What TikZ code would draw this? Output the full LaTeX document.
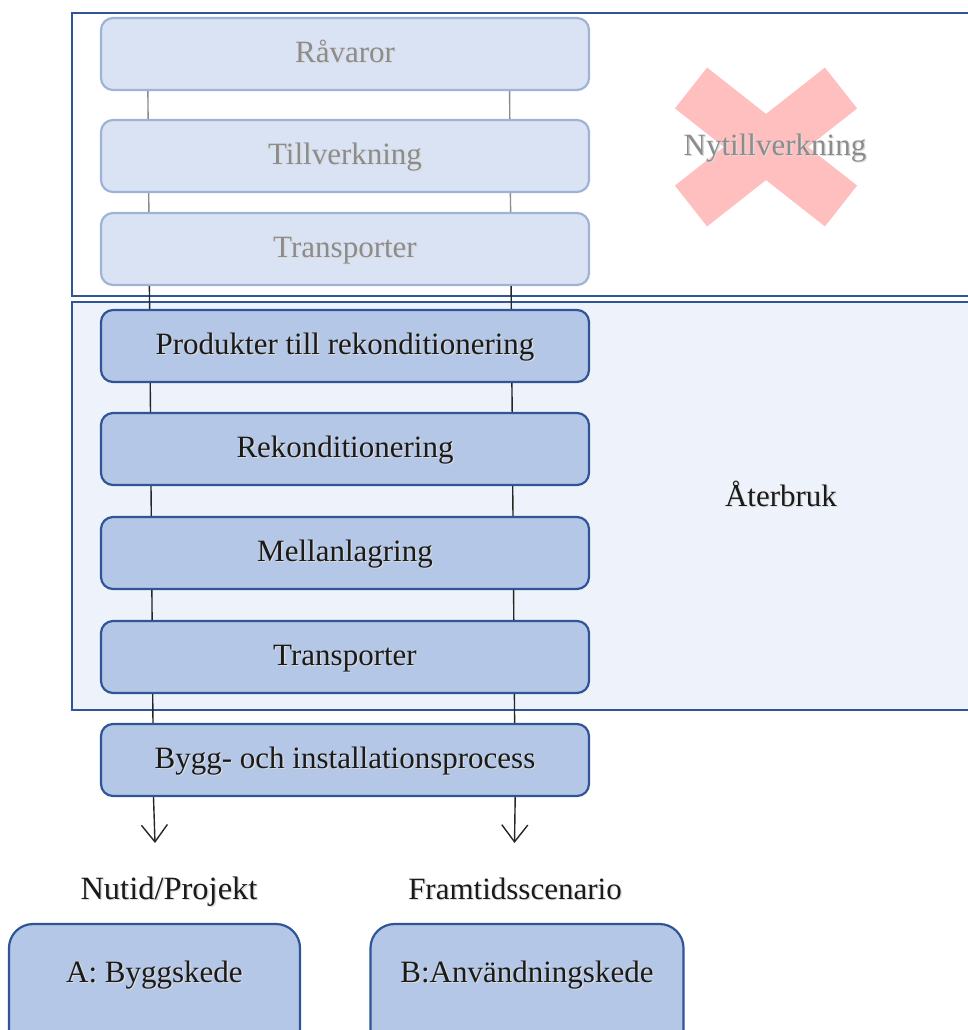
\documentclass[tikz,border=0pt]{standalone}
\usepackage{fontspec}
\setmainfont{Liberation Serif}
\usetikzlibrary{arrows.meta}

\definecolor{frameblue}{HTML}{2F5597}
\definecolor{darkfill}{HTML}{B4C7E7}
\definecolor{lightfill}{HTML}{DAE3F3}
\definecolor{lightedge}{HTML}{9FB3D8}
\definecolor{panelfill}{HTML}{EEF2FA}
\definecolor{crossred}{HTML}{FFBFBF}
\definecolor{greytext}{HTML}{8C8C8C}
\definecolor{inktext}{HTML}{1A1A1A}

% soft drop shadow behind a text
\newcommand\shd[1]{\makebox[0pt][l]{\kern1.3pt\raisebox{-1.3pt}{\textcolor{black!14}{#1}}}#1}

\begin{document}
\begin{tikzpicture}[x=1pt,y=-1pt,
  txt/.style={font=\fontsize{31}{36}\selectfont, inner sep=0pt},
  stepbox/.style={txt, rounded corners=12pt, minimum width=488pt, minimum height=72pt,
                  line width=2.2pt, text height=17pt, text depth=0pt},
  oldbox/.style={stepbox, fill=lightfill, draw=lightedge, text=greytext},
  newbox/.style={stepbox, fill=darkfill, draw=frameblue, text=inktext},
  endbox/.style={txt, rounded corners=24pt, minimum height=136pt, line width=2.2pt,
                 fill=darkfill, draw=frameblue, text=inktext, text height=17pt, text depth=37pt},
  panel/.style={draw=frameblue, line width=2.8pt, minimum width=908pt, inner sep=0pt},
  link/.style={line width=1.4pt, draw=black!85},
  oldlink/.style={line width=1.4pt, draw=black!45},
  arr/.style={link, -{Straight Barb[length=17pt,width=26pt,line width=1.4pt]}}
]
\useasboundingbox (0,0) rectangle (968,1030);
\clip (0,0) rectangle (968,1030);

% outer panels
\node[panel, fill=white, minimum height=283pt] (nypanel) at (526,154.5) {};
\node[panel, fill=panelfill, minimum height=408pt] (atpanel) at (526,506) {};

% crossed-out mark
\draw[crossred, line width=52pt] (691,88) -- (841,206) (841,88) -- (691,206);

% process steps
\node[oldbox] (rav)  at (345,54)  {\shd{Råvaror}};
\node[oldbox] (till) at (345,156) {\shd{Tillverkning}};
\node[oldbox] (tr1)  at (345,249) {\shd{Transporter}};
\node[newbox] (prod) at (345,346) {\shd{Produkter till rekonditionering}};
\node[newbox] (rek)  at (345,449) {\shd{Rekonditionering}};
\node[newbox] (mel)  at (345,553) {\shd{Mellanlagring}};
\node[newbox] (tr2)  at (345,657) {\shd{Transporter}};
\node[newbox] (bygg) at (345,760) {\shd{Bygg- och installationsprocess}};

% side rails between the steps
\draw[oldlink] ([xshift=48.0pt]rav.south west)  -- ([xshift=48.2pt]till.north west);
\draw[oldlink] ([xshift=-80.5pt]rav.south east) -- ([xshift=-80.3pt]till.north east);
\draw[oldlink] ([xshift=48.8pt]till.south west) -- ([xshift=49.0pt]tr1.north west);
\draw[oldlink] ([xshift=-79.7pt]till.south east) -- ([xshift=-79.5pt]tr1.north east);
\draw[link] ([xshift=49.5pt]tr1.south west)  -- ([xshift=49.7pt]prod.north west);
\draw[link] ([xshift=-79.0pt]tr1.south east) -- ([xshift=-78.8pt]prod.north east);
\draw[link] ([xshift=50.3pt]prod.south west) -- ([xshift=50.6pt]rek.north west);
\draw[link] ([xshift=-78.2pt]prod.south east) -- ([xshift=-77.9pt]rek.north east);
\draw[link] ([xshift=51.1pt]rek.south west)  -- ([xshift=51.4pt]mel.north west);
\draw[link] ([xshift=-77.4pt]rek.south east) -- ([xshift=-77.1pt]mel.north east);
\draw[link] ([xshift=52.0pt]mel.south west)  -- ([xshift=52.2pt]tr2.north west);
\draw[link] ([xshift=-76.5pt]mel.south east) -- ([xshift=-76.3pt]tr2.north east);
\draw[link] ([xshift=52.8pt]tr2.south west)  -- ([xshift=53.1pt]bygg.north west);
\draw[link] ([xshift=-75.7pt]tr2.south east) -- ([xshift=-75.5pt]bygg.north east);

% outcome arrows
\coordinate (endL) at (155,843);
\coordinate (endR) at (514.5,843);
\draw[arr] ([xshift=53.6pt]bygg.south west) -- (endL);
\draw[arr] ([xshift=-74.9pt]bygg.south east) -- (endR);

% panel labels
\node[txt, text=greytext, anchor=base] (nylabel) at (775,155) {\shd{Nytillverkning}};
\node[txt, text=inktext, anchor=base] (atlabel) at (781,506) {\shd{Återbruk}};

% scenario labels and phases
\node[txt, text=inktext, anchor=base, font=\fontsize{32.5}{38}\selectfont] (nutid) at (169,899) {\shd{Nutid/Projekt}};
\node[txt, text=inktext, anchor=base] (framtid) at (515,899) {\shd{Framtidsscenario}};
\node[endbox, minimum width=291pt] (fasA) at (154.5,992) {\shd{A: Byggskede}};
\node[endbox, minimum width=313pt] (fasB) at (527,992) {\shd{B:Användningskede}};
\end{tikzpicture}
\end{document}
